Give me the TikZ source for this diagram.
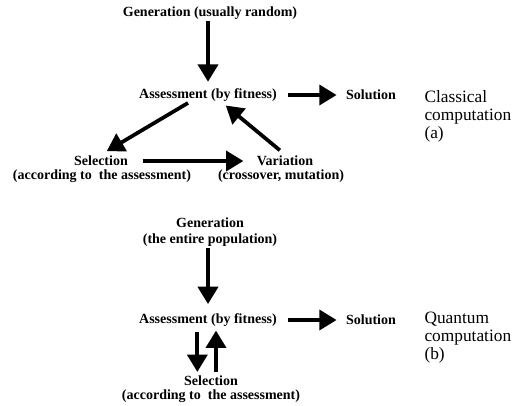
\documentclass[tikz,border=0pt]{standalone}
\usepackage{fontspec}
\setmainfont{Liberation Serif}
\usetikzlibrary{arrows.meta}

\tikzset{every picture/.style={line width=0.75pt}}
\tikzset{
  stage/.style={inner sep=0.75pt, align=center, font=\fontsize{10.5}{12}\selectfont\bfseries},
  note/.style={inner sep=0.75pt, anchor=west, align=left, font=\fontsize{13}{13.5}\selectfont},
  flow/.style={-{Triangle[width=15pt,length=13pt]}, line width=2.8pt},
}

\begin{document}
\begin{tikzpicture}[x=0.75pt,y=0.75pt,yscale=-1,xscale=1]
\useasboundingbox (0,0) rectangle (516,405);

%Classical computation (a)
% Text Node
\node [stage] (gen1) at (210,13) {Generation (usually random)};
% Text Node
\node [stage] (ass1) at (208,95) {Assessment (by fitness)};
% Text Node
\node [stage] (sol1) at (371,95) {Solution};
% Text Node
\node [stage] (sel1) at (101,161) {Selection};
\node [stage] (sel1sub) at (102,176) {(according to\ \ the assessment)};
% Text Node
\node [stage] (var1) at (285,161) {Variation};
\node [stage] (var1sub) at (281,176) {(crossover, mutation)};
% Text Node
\node [note] (cls) at (423,116) {Classical\\computation\\(a)};

%Arrows
\draw [flow, shorten >=4pt] (ass1.north |- gen1.south) -- (ass1.north);
\draw [flow, shorten <=7pt, shorten >=6pt] (ass1) -- (sol1);
\draw [flow, shorten >=5pt] ([xshift=-15pt]ass1.south) -- (sel1.north);
\draw [flow, shorten <=5pt, shorten >=3pt] (var1.north) -- ([xshift=11pt]ass1.south);
\draw [flow, shorten <=10pt, shorten >=9pt] (sel1) -- (var1);

%Quantum computation (b)
% Text Node
\node [stage] (gen2) at (210,232) {Generation\\(the entire population)};
% Text Node
\node [stage] (ass2) at (208,320) {Assessment (by fitness)};
% Text Node
\node [stage] (sol2) at (371,320) {Solution};
% Text Node
\node [stage] (sel2) at (211,381) {Selection};
\node [stage] (sel2sub) at (211,396) {(according to\ \ the assessment)};
% Text Node
\node [note] (qnt) at (423,338) {Quantum\\computation\\(b)};

%Arrows
\draw [flow, shorten >=6pt] (ass2.north |- gen2.south) -- (ass2.north);
\draw [flow, shorten <=7pt, shorten >=6pt] (ass2) -- (sol2);
\draw [flow, shorten <=3pt, shorten >=2pt] ([xshift=-8pt]ass2.south) -- ([xshift=-8pt]ass2.south |- sel2.north);
\draw [flow, shorten <=2pt, shorten >=2pt] ([xshift=6pt]ass2.south |- sel2.north) -- ([xshift=6pt]ass2.south);

\end{tikzpicture}
\end{document}
